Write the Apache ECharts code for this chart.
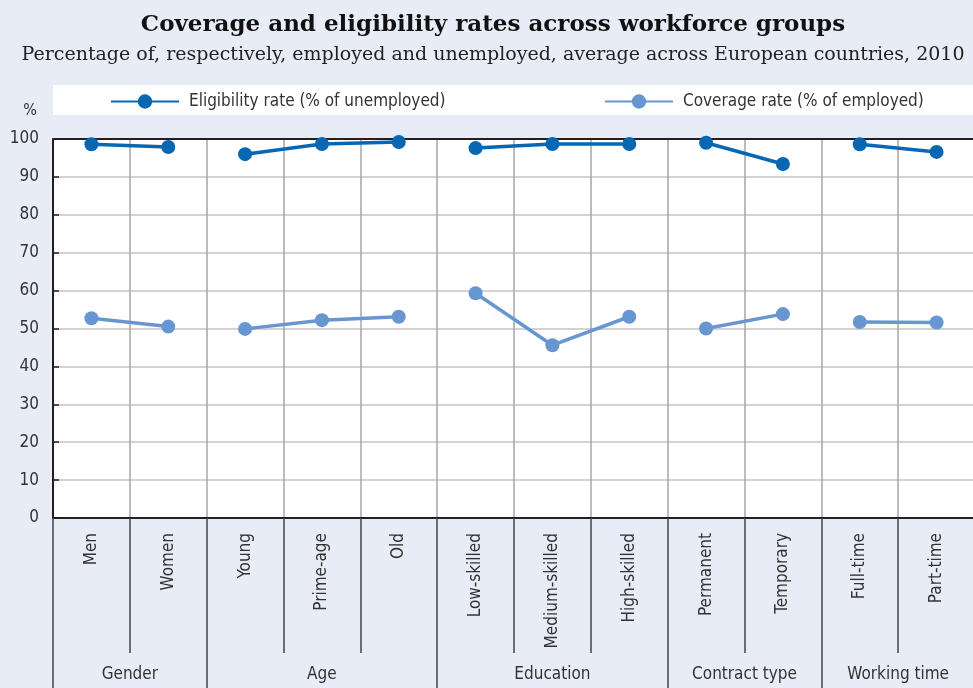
<!DOCTYPE html>
<html>
<head>
<meta charset="utf-8">
<script src="https://cdn.jsdelivr.net/npm/echarts@6/dist/echarts.min.js"></script>
<style>
  html, body { margin: 0; padding: 0; background: #e8ecf7; }
  #chart { width: 973px; height: 688px; }
</style>
</head>
<body>
<div id="chart"></div>
<script>
// Workforce groups and their sub-categories
const categories = ['Men', 'Women', 'Young', 'Prime-age', 'Old',
  'Low-skilled', 'Medium-skilled', 'High-skilled',
  'Permanent', 'Temporary', 'Full-time', 'Part-time'];
const groupNames = ['Gender', 'Age', 'Education', 'Contract type', 'Working time'];
const groupSizes = [2, 3, 3, 2, 2];

// Rates in per cent
const eligibility = [98.6, 97.9, 96.0, 98.7, 99.2, 97.6, 98.7, 98.7, 99.0, 93.4, 98.6, 96.6];
const coverage = [52.7, 50.5, 49.9, 52.2, 53.1, 59.3, 45.6, 53.1, 50.0, 53.8, 51.7, 51.6];

const yTicks = [0, 10, 20, 30, 40, 50, 60, 70, 80, 90, 100];

const ELIG_NAME = 'Eligibility rate (% of unemployed)';
const COV_NAME = 'Coverage rate (% of employed)';
const ELIG_COLOR = '#0867b3';
const COV_COLOR = '#6896d0';
const SANS = '"DejaVu Sans Condensed", "DejaVu Sans", sans-serif';
const SERIF = '"DejaVu Serif", serif';

// first category index of each group
const groupStarts = [];
let acc = 0;
groupSizes.forEach(n => { groupStarts.push(acc); acc += n; });

function groupSeries(name, values, color, g) {
  const start = groupStarts[g], end = start + groupSizes[g];
  return {
    name: name,
    type: 'line',
    data: values.map((v, i) => (i >= start && i < end ? v : '-')),
    symbol: 'circle',
    symbolSize: 14,
    lineStyle: { color: color, width: 3.5 },
    itemStyle: { color: color },
    emphasis: { disabled: true },
    z: name === ELIG_NAME ? 5 : 4,
    animation: false
  };
}

const series = [];
groupNames.forEach((_, g) => {
  series.push(groupSeries(ELIG_NAME, eligibility, ELIG_COLOR, g));
  series.push(groupSeries(COV_NAME, coverage, COV_COLOR, g));
});
// dark top frame line at 100
series[0].markLine = {
  silent: true,
  symbol: 'none',
  label: { show: false },
  lineStyle: { color: '#231f20', width: 2, type: 'solid' },
  data: [{ yAxis: yTicks[yTicks.length - 1] }],
  animation: false
};

const legendCommon = {
  top: 88,
  itemWidth: 68,
  itemHeight: 18,
  itemGap: 16,
  textStyle: { fontFamily: SANS, fontSize: 17, color: '#333', padding: [0, 0, 0, 5] },
  selectedMode: false
};

const chart = echarts.init(document.getElementById('chart'), null, { renderer: 'canvas' });

chart.setOption({
  backgroundColor: '#e8ecf7',
  animation: false,
  title: {
    text: 'Coverage and eligibility rates across workforce groups',
    subtext: 'Percentage of, respectively, employed and unemployed, average across European countries, 2010',
    left: 488,
    textAlign: 'center',
    top: 9,
    itemGap: 9,
    textStyle: { fontFamily: SERIF, fontWeight: 'bold', fontSize: 23, color: '#111' },
    subtextStyle: { fontFamily: SERIF, fontSize: 19, color: '#222' }
  },
  legend: [
    Object.assign({ left: 105, data: [ELIG_NAME] }, legendCommon),
    Object.assign({ left: 599, data: [COV_NAME] }, legendCommon)
  ],
  grid: {
    left: 53, top: 139, width: 922, height: 379,
    show: true, backgroundColor: '#ffffff', borderWidth: 0,
    containLabel: false,
    outerBoundsMode: 'none'
  },
  xAxis: [
    {
      type: 'category',
      data: categories,
      boundaryGap: true,
      axisLine: { show: true, onZero: false, lineStyle: { color: '#231f20', width: 2 } },
      axisTick: { show: true, interval: 0, length: 135, lineStyle: { color: '#444', width: 1.5 } },
      splitLine: { show: true, interval: 0, lineStyle: { color: '#a6a6a6', width: 1.5 } },
      axisLabel: {
        interval: 0, rotate: 90, margin: 15,
        fontFamily: SANS, fontSize: 17, color: '#333'
      }
    },
    {
      type: 'category',
      data: categories,
      boundaryGap: true,
      position: 'bottom',
      axisLine: { show: false },
      axisLabel: { show: false },
      splitLine: { show: false },
      axisTick: {
        show: true,
        length: 180,
        interval: function (index) { return groupStarts.indexOf(index) >= 0; },
        lineStyle: { color: '#444', width: 1.5 }
      }
    }
  ],
  yAxis: {
    type: 'value',
    min: yTicks[0],
    max: yTicks[yTicks.length - 1],
    interval: 10,
    name: '%',
    nameLocation: 'end',
    nameGap: 20,
    nameTextStyle: { fontFamily: SANS, fontSize: 16, color: '#333', align: 'right', padding: [0, 16, 0, 0] },
    axisLine: { show: true, lineStyle: { color: '#231f20', width: 2 } },
    axisTick: { show: true, inside: true, length: 6, lineStyle: { color: '#231f20', width: 1.5 } },
    splitLine: { show: true, lineStyle: { color: '#c4c4c4', width: 1.5 } },
    axisLabel: { margin: 14, fontFamily: SANS, fontSize: 17, color: '#333' }
  },
  series: series
});

// white band behind the legend, plus group captions centred under each group
const yBase = chart.convertToPixel({ yAxisIndex: 0 }, yTicks[0]);
const graphics = [{
  id: 'legend-band',
  type: 'rect',
  z: -1,
  shape: { x: 53, y: 85, width: 920, height: 30 },
  style: { fill: '#ffffff' },
  silent: true
}];
groupNames.forEach((name, g) => {
  const first = groupStarts[g], last = first + groupSizes[g] - 1;
  const x0 = chart.convertToPixel({ xAxisIndex: 0 }, first);
  const x1 = chart.convertToPixel({ xAxisIndex: 0 }, last);
  graphics.push({
    id: 'group-' + g,
    type: 'text',
    x: (x0 + x1) / 2,
    y: yBase + 157,
    silent: true,
    style: {
      text: name, fontFamily: SANS, fontSize: 17, fill: '#333',
      align: 'center', verticalAlign: 'middle'
    }
  });
});
chart.setOption({ graphic: graphics });
</script>
</body>
</html>
